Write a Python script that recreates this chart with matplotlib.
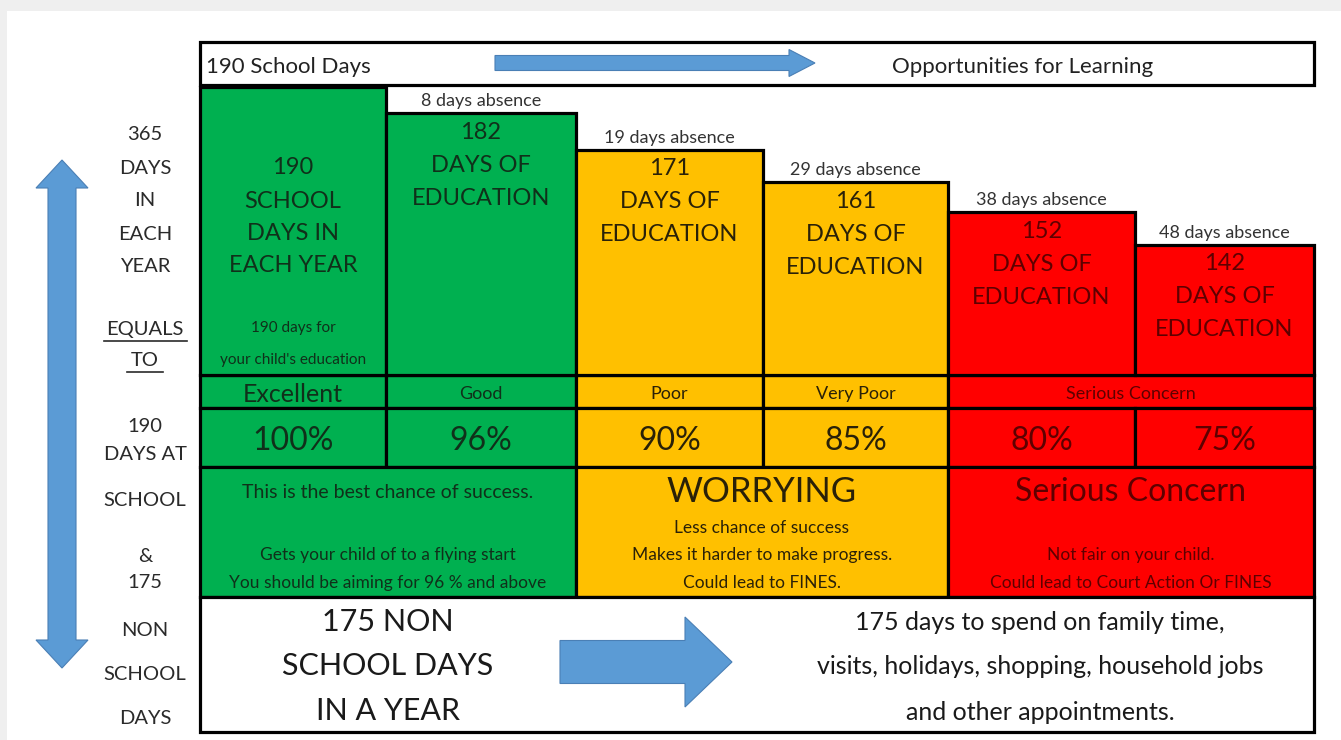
import numpy as np
import matplotlib.pyplot as plt
import matplotlib.patches as mpatches

plt.rcParams['font.family'] = ['Lato', 'DejaVu Sans']

# Data
days_attended = [190, 182, 171, 161, 152, 142]
days_absent = [0, 8, 19, 29, 38, 48]
attendance_pct = [100, 96, 90, 85, 80, 75]
rating_labels = ["Excellent", "Good", "Poor", "Very Poor", "Serious Concern"]
rating_cols = [(0, 1), (1, 2), (2, 3), (3, 4), (4, 6)]
left_words = ["365", "DAYS", "IN", "EACH", "YEAR", "EQUALS", "TO", "190", "DAYS AT",
              "SCHOOL", "&", "175", "NON", "SCHOOL", "DAYS"]
band_groups = [(0, 2), (2, 4), (4, 6)]
band_titles = ["This is the best chance of success.", "WORRYING", "Serious Concern"]
band_notes = [["", "Gets your child of to a flying start", "You should be aiming for 96 % and above"],
              ["Less chance of success", "Makes it harder to make progress.", "Could lead to FINES."],
              ["", "Not fair on your child.", "Could lead to Court Action Or FINES"]]
free_lines = ["175 days to spend on family time,", "visits, holidays, shopping, household jobs",
              "and other appointments."]

# Style / layout (pixel space)
GREEN, AMBER, RED = '#00B050', '#FFC000', '#FF0000'
col_fill = [GREEN, GREEN, AMBER, AMBER, RED, RED]
col_ink = ['#10301a', '#10301a', '#2a2108', '#2a2108', '#5e0000', '#5e0000']
band_fill = [GREEN, AMBER, RED]
band_ink = ['#10301a', '#2a2108', '#5e0000']
BLUE, BLUE_EDGE = '#5B9BD5', '#4a7fb5'
COL_EDGES = [200, 386, 576, 763, 948, 1135, 1314]
LW = 2.3
W, H = 1341, 740
DY = 3  # nudge text down a little so it sits like the original

fig = plt.figure(figsize=(W / 100, H / 100), dpi=100)
fig.patch.set_facecolor('#efefef')
ax = fig.add_axes([0, 0, 1, 1])
ax.set_xlim(0, W)
ax.set_ylim(H, 0)
ax.axis('off')
ax.add_patch(mpatches.Rectangle((7, 11), W, H, facecolor='white', edgecolor='none'))


def rect(x0, x1, y0, y1, fc):
    ax.add_patch(mpatches.Rectangle((x0, y0), x1 - x0, y1 - y0, facecolor=fc,
                                    edgecolor='black', lw=LW, zorder=2))


def label(x, y, t, fs, color, ha='center'):
    ax.text(x, y + DY, t, fontsize=fs, color=color, ha=ha, va='center', zorder=3)


# header strip
rect(200, 1314, 42, 85, 'white')
label(206, 64, "190 School Days", 16, '#222', ha='left')
label(1023, 64, "Opportunities for Learning", 16, '#222')
ax.add_patch(mpatches.FancyArrow(495, 63, 320, 0, width=15, head_width=27, head_length=26,
                                 length_includes_head=True, fc=BLUE, ec=BLUE_EDGE, lw=0.8, zorder=3))

# bars of days attended
bx = fig.add_axes([200 / W, (H - 375) / H, (1314 - 200) / W, (375 - 87) / H])
bx.set_xlim(200, 1314)
bx.set_ylim(102.5, 190)
bx.axis('off')
lefts = COL_EDGES[:-1]
widths = np.diff(COL_EDGES)
bars = bx.bar(lefts, [d - 102.5 for d in days_attended], width=widths, bottom=102.5,
              align='edge', color=col_fill, edgecolor='black', linewidth=LW)
for b in bars:
    b.set_clip_on(False)


def bar_text(t, cx, d, off, fs, color):
    bx.annotate(t, (cx, d), xytext=(0, off - DY), textcoords='offset pixels',
                ha='center', va='center', fontsize=fs, color=color)


for i, (d, a) in enumerate(zip(days_attended, days_absent)):
    cx = lefts[i] + widths[i] / 2
    ink = col_ink[i]
    if i == 0:
        lines = [str(d), "SCHOOL", "DAYS IN", "EACH YEAR"]
        for t, o in zip(lines, [-78, -111, -143, -175]):
            bar_text(t, cx, d, o, 17, ink)
        bar_text("190 days for", cx, 102.5, 50, 11, ink)
        bar_text("your child's education", cx, 102.5, 18, 11, ink)
    else:
        for t, o in zip([str(d), "DAYS OF", "EDUCATION"], [-16, -49, -82]):
            bar_text(t, cx, d, o, 17, ink)
        bar_text(f"{a} days absence", cx, d, 15, 13, '#333')

# rating row
for lab, (c0, c1) in zip(rating_labels, rating_cols):
    rect(COL_EDGES[c0], COL_EDGES[c1], 375, 408, col_fill[c0])
    fs = 18 if lab == "Excellent" else 13
    label((COL_EDGES[c0] + COL_EDGES[c1]) / 2, 391, lab, fs, col_ink[c0])

# percentage row
for i, p in enumerate(attendance_pct):
    rect(COL_EDGES[i], COL_EDGES[i + 1], 408, 467, col_fill[i])
    label((COL_EDGES[i] + COL_EDGES[i + 1]) / 2, 438, f"{p}%", 23, col_ink[i])

# message bands
for k, (c0, c1) in enumerate(band_groups):
    x0, x1 = COL_EDGES[c0], COL_EDGES[c1]
    rect(x0, x1, 467, 597, band_fill[k])
    cx = (x0 + x1) / 2
    fs = 14 if k == 0 else (25 if k == 1 else 23)
    label(cx, 489, band_titles[k], fs, band_ink[k])
    for t, y in zip(band_notes[k], [525, 552, 580]):
        if t:
            label(cx, y, t, 12.5, band_ink[k])

# non-school days row
rect(200, 1314, 597, 732, 'white')
for t, y in zip(["175 NON", "SCHOOL DAYS", "IN A YEAR"], [619, 663, 708]):
    label(388, y, t, 22, '#1a1a1a')
for t, y in zip(free_lines, [620, 663, 709]):
    label(1040, y, t, 18, '#1a1a1a')
ax.add_patch(mpatches.FancyArrow(560, 662, 172, 0, width=43, head_width=90, head_length=47,
                                 length_includes_head=True, fc=BLUE, ec=BLUE_EDGE, lw=0.8, zorder=3))

# left column words
left_y = [132, 165, 197, 231, 263, 327, 358, 424, 452, 497, 553, 580, 627, 671, 715]
for t, y in zip(left_words, left_y):
    label(145, y, t, 14.5, '#2a2a2a')
ax.plot([104, 187], [341, 341], color='#2a2a2a', lw=1.2)
ax.plot([127, 163], [372, 372], color='#2a2a2a', lw=1.2)

# double headed arrow
x, y0, y1, sw, hw, hl = 62, 160, 668, 28, 52, 28
pts = [(x, y0), (x + hw / 2, y0 + hl), (x + sw / 2, y0 + hl), (x + sw / 2, y1 - hl),
       (x + hw / 2, y1 - hl), (x, y1), (x - hw / 2, y1 - hl), (x - sw / 2, y1 - hl),
       (x - sw / 2, y0 + hl), (x - hw / 2, y0 + hl)]
ax.add_patch(mpatches.Polygon(pts, closed=True, fc=BLUE, ec=BLUE_EDGE, lw=0.8, zorder=3))

fig.savefig('out.png', dpi=100, facecolor=fig.get_facecolor())
